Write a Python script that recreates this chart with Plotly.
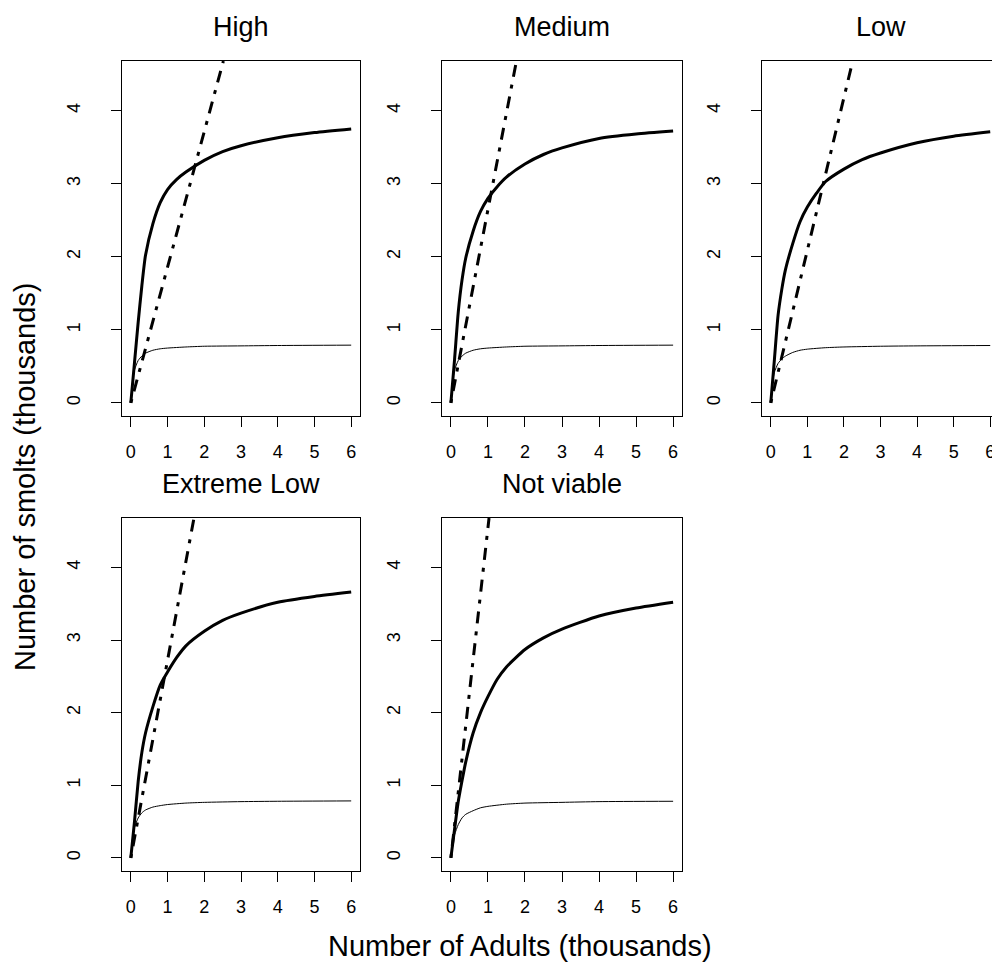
import plotly.graph_objects as go

# ---------------- data ----------------
panel_titles = ["High", "Medium", "Low", "Extreme Low", "Not viable"]

# thick solid curve (adults -> smolts), x in thousands of adults
x_thick = [0, 0.1, 0.2, 0.3, 0.4, 0.6, 0.8, 1.0, 1.25, 1.5, 2.0, 2.5, 3.0, 4.0, 5.0, 6.0]
thick_high = [0, 0.55, 1.1, 1.6, 2.02, 2.45, 2.74, 2.92, 3.06, 3.16, 3.32, 3.44, 3.52, 3.63, 3.70, 3.75]
thick_medium = [0, 0.6, 1.25, 1.68, 1.98, 2.35, 2.62, 2.80, 2.96, 3.09, 3.27, 3.40, 3.49, 3.62, 3.68, 3.72]
thick_low = [0, 0.6, 1.2, 1.55, 1.82, 2.18, 2.48, 2.68, 2.87, 3.03, 3.20, 3.33, 3.42, 3.56, 3.65, 3.71]
thick_extlow = [0, 0.5, 1.05, 1.45, 1.72, 2.08, 2.38, 2.56, 2.76, 2.92, 3.12, 3.27, 3.37, 3.52, 3.60, 3.66]
thick_notviable = [0, 0.40, 0.78, 1.06, 1.32, 1.72, 2.00, 2.22, 2.46, 2.63, 2.87, 3.03, 3.15, 3.33, 3.44, 3.52]

# thin solid curve
x_thin = [0, 0.05, 0.1, 0.2, 0.3, 0.4, 0.6, 0.8, 1.0, 1.5, 2.0, 3.0, 4.0, 6.0]
thin_high = [0, 0.30, 0.45, 0.58, 0.64, 0.68, 0.72, 0.74, 0.75, 0.765, 0.775, 0.78, 0.785, 0.79]
thin_medium = [0, 0.30, 0.45, 0.58, 0.64, 0.68, 0.72, 0.74, 0.75, 0.765, 0.775, 0.78, 0.785, 0.79]
thin_low = [0, 0.28, 0.42, 0.54, 0.60, 0.64, 0.69, 0.72, 0.735, 0.755, 0.765, 0.775, 0.78, 0.785]
thin_extlow = [0, 0.28, 0.42, 0.55, 0.62, 0.66, 0.70, 0.72, 0.735, 0.755, 0.765, 0.775, 0.78, 0.785]
thin_notviable = [0, 0.20, 0.32, 0.46, 0.55, 0.60, 0.65, 0.69, 0.71, 0.74, 0.755, 0.765, 0.775, 0.78]

# dash-dot replacement line: from origin to where it leaves the top of the panel
dd_x = [[0, 2.52], [0, 1.77], [0, 2.24], [0, 1.72], [0, 1.03]]
dd_y = [[0, 4.68], [0, 4.68], [0, 4.68], [0, 4.68], [0, 4.68]]

x_ticks = [0, 1, 2, 3, 4, 5, 6]
y_ticks = [0, 1, 2, 3, 4]

thick_sets = [thick_high, thick_medium, thick_low, thick_extlow, thick_notviable]
thin_sets = [thin_high, thin_medium, thin_low, thin_extlow, thin_notviable]

# ---------------- layout geometry (page pixels; page body has an 8px margin) ----------------
OFF = 8
W, H = 992, 968
lefts = [122, 442, 762, 122, 442]
rights = [360, 682, 999, 360, 682]
tops = [61, 61, 61, 518, 518]
bottoms = [416, 416, 416, 871, 871]


def px(v):
    return (v - OFF) / W


def py(v):
    return 1 - (v - OFF) / H


FONT = "Liberation Sans, Arial, sans-serif"

fig = go.Figure()
layout = dict(
    width=W, height=H,
    margin=dict(l=0, r=0, t=0, b=0),
    paper_bgcolor="white", plot_bgcolor="white",
    showlegend=False,
    font=dict(family=FONT, color="black"),
)
annotations = []

for i in range(5):
    k = "" if i == 0 else str(i + 1)
    xa, ya = "x" + k, "y" + k
    fig.add_trace(go.Scatter(x=x_thick, y=thick_sets[i], mode="lines",
                             line=dict(color="black", width=3, shape="spline", smoothing=0.6),
                             xaxis=xa, yaxis=ya, hoverinfo="skip"))
    fig.add_trace(go.Scatter(x=x_thin, y=thin_sets[i], mode="lines",
                             line=dict(color="black", width=1, shape="spline", smoothing=0.6),
                             xaxis=xa, yaxis=ya, hoverinfo="skip"))
    fig.add_trace(go.Scatter(x=dd_x[i], y=dd_y[i], mode="lines",
                             line=dict(color="black", width=3, dash="4px,8px,12px,8px"),
                             xaxis=xa, yaxis=ya, hoverinfo="skip"))
    axis_common = dict(showline=True, mirror=True, linecolor="black", linewidth=1,
                       ticks="outside", ticklen=10, tickwidth=1, tickcolor="black",
                       showgrid=False, zeroline=False,
                       tickfont=dict(family=FONT, size=18, color="black"))
    layout["xaxis" + k] = dict(axis_common, domain=[px(lefts[i]), px(rights[i])],
                               range=[-0.24, 6.24], tickvals=x_ticks,
                               anchor=ya, ticklabelstandoff=9)
    layout["yaxis" + k] = dict(axis_common, domain=[py(bottoms[i]), py(tops[i])],
                               range=[-0.18, 4.68], tickvals=y_ticks, tickangle=-90,
                               anchor=xa, ticklabelstandoff=24)
    annotations.append(dict(text=panel_titles[i], xref="paper", yref="paper",
                            x=px((lefts[i] + rights[i]) / 2), y=py(tops[i] - 34),
                            xanchor="center", yanchor="middle", showarrow=False,
                            font=dict(family=FONT, size=27, color="black")))

annotations.append(dict(text="Number of Adults (thousands)", xref="paper", yref="paper",
                        x=px(520), y=py(946), xanchor="center", yanchor="middle",
                        showarrow=False, font=dict(family=FONT, size=29, color="black")))
annotations.append(dict(text="Number of smolts (thousands)", xref="paper", yref="paper",
                        x=px(25), y=py(477), xanchor="center", yanchor="middle",
                        textangle=-90, showarrow=False,
                        font=dict(family=FONT, size=29, color="black")))
layout["annotations"] = annotations

fig.update_layout(**layout)
fig.write_html("out.html")
